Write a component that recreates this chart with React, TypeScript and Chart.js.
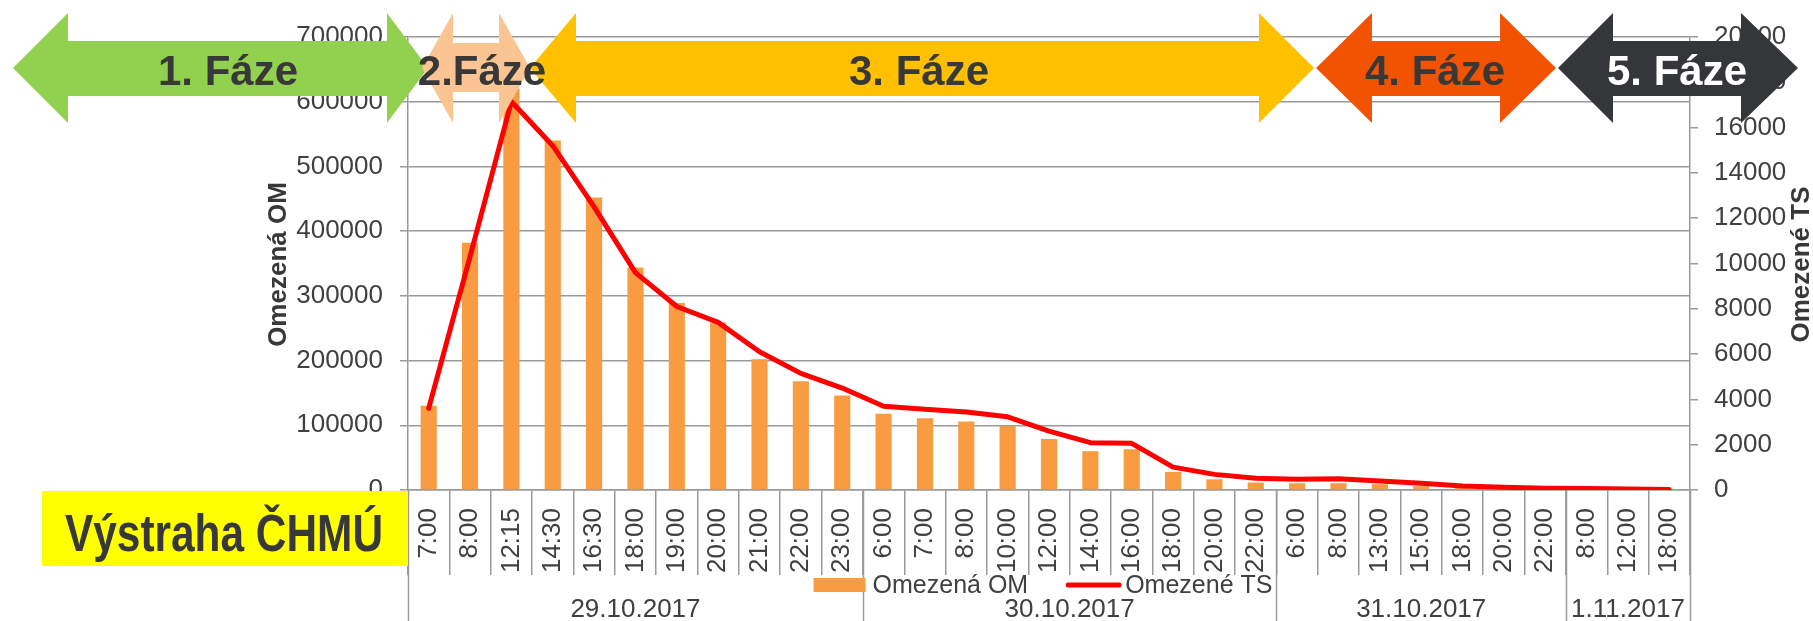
import React, { useEffect, useRef } from 'react';
import { Chart, registerables } from 'chart.js';

Chart.register(...registerables);

// ---------- data ----------
const timeLabels = [
  '7:00', '8:00', '12:15', '14:30', '16:30', '18:00', '19:00', '20:00', '21:00', '22:00', '23:00',
  '6:00', '7:00', '8:00', '10:00', '12:00', '14:00', '16:00', '18:00', '20:00', '22:00',
  '6:00', '8:00', '13:00', '15:00', '18:00', '20:00', '22:00',
  '8:00', '12:00', '18:00',
];
const dateLabels = ['29.10.2017', '30.10.2017', '31.10.2017', '1.11.2017'];
const dateGroupSizes = [11, 10, 7, 3];

const omezenaOM = [
  130000, 382000, 620000, 540000, 452000, 344000, 289000, 259000, 202000, 168000, 146000,
  118000, 111000, 106000, 99000, 79000, 60000, 63000, 28000, 16500, 11500,
  10500, 10500, 9000, 6000, 3000, 2000, 1500,
  1000, 500, 300,
];
const omezeneTS = [
  3600, 10300, 17150, 15200, 12500, 9600, 8100, 7400, 6100, 5150, 4500,
  3700, 3560, 3440, 3230, 2600, 2090, 2060, 1010, 690, 515,
  470, 500, 400, 300, 180, 120, 75,
  70, 40, 25,
];
const seriesNames = ['Omezená OM', 'Omezené TS'];
const leftAxisTitle = 'Omezená OM';
const rightAxisTitle = 'Omezené TS';
const leftMax = 700000;
const leftStep = 100000;
const rightMax = 20000;
const rightStep = 2000;
const warningLabel = 'Výstraha ČHMÚ';

// phase arrows (decorations): label, fill, text colour, [leftTip, leftBase, rightBase, rightTip], text centre x
const phaseLabels = ['1. Fáze', '2.Fáze', '3. Fáze', '4. Fáze', '5. Fáze'];
const phaseFills = ['#92D050', '#FBC493', '#FFC000', '#F25300', '#35363A'];
const phaseTextColors = ['#383838', '#383838', '#383838', '#383838', '#FFFFFF'];
const phaseGeom = [
  [13, 68, 387, 428],
  [422, 453, 499, 530],
  [530, 576, 1259, 1314],
  [1316, 1372, 1500, 1556],
  [1558, 1613, 1741, 1798],
];
const phaseTextX = [228, 482, 919, 1435, 1677];

// ---------- styles ----------
const FONT = '"Liberation Sans", Arial, Helvetica, sans-serif';
const GRID = '#9a9a9a';
const TICK_COLOR = '#404040';
const TITLE_COLOR = '#383838';
const BAR_COLOR = '#F99B40';
const LINE_COLOR = '#FF0000';

const overlayPlugin = {
  id: 'overlay',
  afterDraw(chart: any) {
    const ctx: CanvasRenderingContext2D = chart.ctx;
    const xs = chart.scales.x;
    const area = chart.chartArea;
    const H = chart.height;
    const half = (xs.getPixelForValue(1) - xs.getPixelForValue(0)) / 2;
    const boundary = (i: number) => xs.getPixelForValue(i) - half;

    ctx.save();
    // group separators + date labels
    ctx.strokeStyle = GRID;
    ctx.lineWidth = 1.5;
    let start = 0;
    const bounds = [0];
    dateGroupSizes.forEach((s) => { start += s; bounds.push(start); });
    bounds.forEach((b) => {
      const px = Math.round(boundary(b)) + 0.5;
      ctx.beginPath();
      ctx.moveTo(px, area.bottom);
      ctx.lineTo(px, H);
      ctx.stroke();
    });
    ctx.fillStyle = TICK_COLOR;
    ctx.font = `26px ${FONT}`;
    ctx.textAlign = 'center';
    ctx.textBaseline = 'alphabetic';
    dateLabels.forEach((d, i) => {
      const cx = (boundary(bounds[i]) + boundary(bounds[i + 1])) / 2;
      ctx.fillText(d, cx, 617);
    });

    // legend
    ctx.font = `25px ${FONT}`;
    const w1 = ctx.measureText(seriesNames[0]).width;
    const w2 = ctx.measureText(seriesNames[1]).width;
    const total = 52 + 7 + w1 + 38 + 55 + 4 + w2;
    let lx = (area.left + area.right) / 2 - 6 - total / 2;
    ctx.fillStyle = BAR_COLOR;
    ctx.fillRect(lx, 578, 52, 14);
    lx += 52 + 7;
    ctx.fillStyle = TICK_COLOR;
    ctx.textAlign = 'left';
    ctx.fillText(seriesNames[0], lx, 593);
    lx += w1 + 38;
    ctx.strokeStyle = LINE_COLOR;
    ctx.lineWidth = 5;
    ctx.lineCap = 'round';
    ctx.beginPath();
    ctx.moveTo(lx + 2, 585);
    ctx.lineTo(lx + 53, 585);
    ctx.stroke();
    lx += 55 + 4;
    ctx.fillText(seriesNames[1], lx, 593);

    // axis titles
    ctx.fillStyle = TITLE_COLOR;
    ctx.font = `bold 26px ${FONT}`;
    ctx.textAlign = 'center';
    ctx.textBaseline = 'middle';
    const cy = (area.top + area.bottom) / 2;
    ctx.save();
    ctx.translate(279, cy + 1);
    ctx.rotate(-Math.PI / 2);
    ctx.fillText(leftAxisTitle, 0, 0);
    ctx.restore();
    ctx.save();
    ctx.translate(1802, cy + 1);
    ctx.rotate(-Math.PI / 2);
    ctx.fillText(rightAxisTitle, 0, 0);
    ctx.restore();

    // warning box
    ctx.fillStyle = '#FFFF00';
    ctx.fillRect(42, area.bottom + 1, area.left - 42, 75);
    ctx.fillStyle = TITLE_COLOR;
    ctx.font = `bold 51px ${FONT}`;
    ctx.textAlign = 'center';
    ctx.textBaseline = 'alphabetic';
    ctx.fillText(warningLabel, 224, 551, 318);

    // phase arrows
    const yTop = 13, yBot = 123, yMid = 68;
    phaseGeom.forEach((g, i) => {
      const st = i === 1 ? 43 : 41;
      const sb = i === 1 ? 92 : 96;
      ctx.fillStyle = phaseFills[i];
      ctx.beginPath();
      ctx.moveTo(g[0], yMid);
      ctx.lineTo(g[1], yTop);
      ctx.lineTo(g[1], st);
      ctx.lineTo(g[2], st);
      ctx.lineTo(g[2], yTop);
      ctx.lineTo(g[3], yMid);
      ctx.lineTo(g[2], yBot);
      ctx.lineTo(g[2], sb);
      ctx.lineTo(g[1], sb);
      ctx.lineTo(g[1], yBot);
      ctx.closePath();
      ctx.fill();
    });
    ctx.font = `bold 42px ${FONT}`;
    ctx.textAlign = 'center';
    ctx.textBaseline = 'alphabetic';
    phaseLabels.forEach((t, i) => {
      ctx.fillStyle = phaseTextColors[i];
      ctx.fillText(t, phaseTextX[i], 85);
    });
    ctx.restore();
  },
};

export default function App() {
  const ref = useRef<HTMLCanvasElement | null>(null);

  useEffect(() => {
    if (!ref.current) return;
    Chart.defaults.font.family = FONT;
    const tickFont = { size: 26, family: FONT };
    const chart = new Chart(ref.current, {
      type: 'bar',
      data: {
        labels: timeLabels,
        datasets: [
          {
            type: 'line',
            label: seriesNames[1],
            data: omezeneTS,
            yAxisID: 'y1',
            borderColor: LINE_COLOR,
            backgroundColor: LINE_COLOR,
            borderWidth: 5,
            pointRadius: 0,
            tension: 0,
            borderCapStyle: 'round',
            borderJoinStyle: 'round',
            order: 1,
          } as any,
          {
            type: 'bar',
            label: seriesNames[0],
            data: omezenaOM,
            yAxisID: 'y',
            backgroundColor: BAR_COLOR,
            barPercentage: 0.39,
            categoryPercentage: 1,
            order: 2,
          },
        ],
      },
      options: {
        responsive: false,
        animation: false,
        devicePixelRatio: 1,
        layout: { padding: { top: 37, left: 0, right: 0, bottom: 0 } },
        plugins: { legend: { display: false }, tooltip: { enabled: false } },
        scales: {
          x: {
            type: 'category',
            offset: true,
            grid: { offset: true, drawOnChartArea: false, color: GRID, lineWidth: 1.5, tickLength: 85 },
            border: { color: GRID, width: 1.5 },
            ticks: {
              autoSkip: false,
              minRotation: 90,
              maxRotation: 90,
              padding: -67,
              color: TICK_COLOR,
              font: tickFont,
            },
            afterFit: (s: any) => { s.height = 131; },
          },
          y: {
            position: 'left',
            min: 0,
            max: leftMax,
            ticks: {
              stepSize: leftStep,
              padding: 17,
              color: TICK_COLOR,
              font: tickFont,
              callback: (v: any) => String(v),
            },
            grid: { color: GRID, lineWidth: 1.5, tickLength: 8 },
            border: { color: GRID, width: 1.5 },
            afterFit: (s: any) => { s.width = 408; },
          },
          y1: {
            position: 'right',
            min: 0,
            max: rightMax,
            ticks: {
              stepSize: rightStep,
              padding: 16,
              color: TICK_COLOR,
              font: tickFont,
              callback: (v: any) => String(v),
            },
            grid: { drawOnChartArea: false, color: GRID, lineWidth: 1.5, tickLength: 8 },
            border: { color: GRID, width: 1.5 },
            afterFit: (s: any) => { s.width = 123; },
          },
        },
      } as any,
      plugins: [overlayPlugin],
    });
    return () => chart.destroy();
  }, []);

  return (
    <div style={{ position: 'absolute', left: 0, top: 0, width: 1813, height: 621, background: '#fff' }}>
      <canvas ref={ref} width={1813} height={621} style={{ display: 'block' }} />
    </div>
  );
}
